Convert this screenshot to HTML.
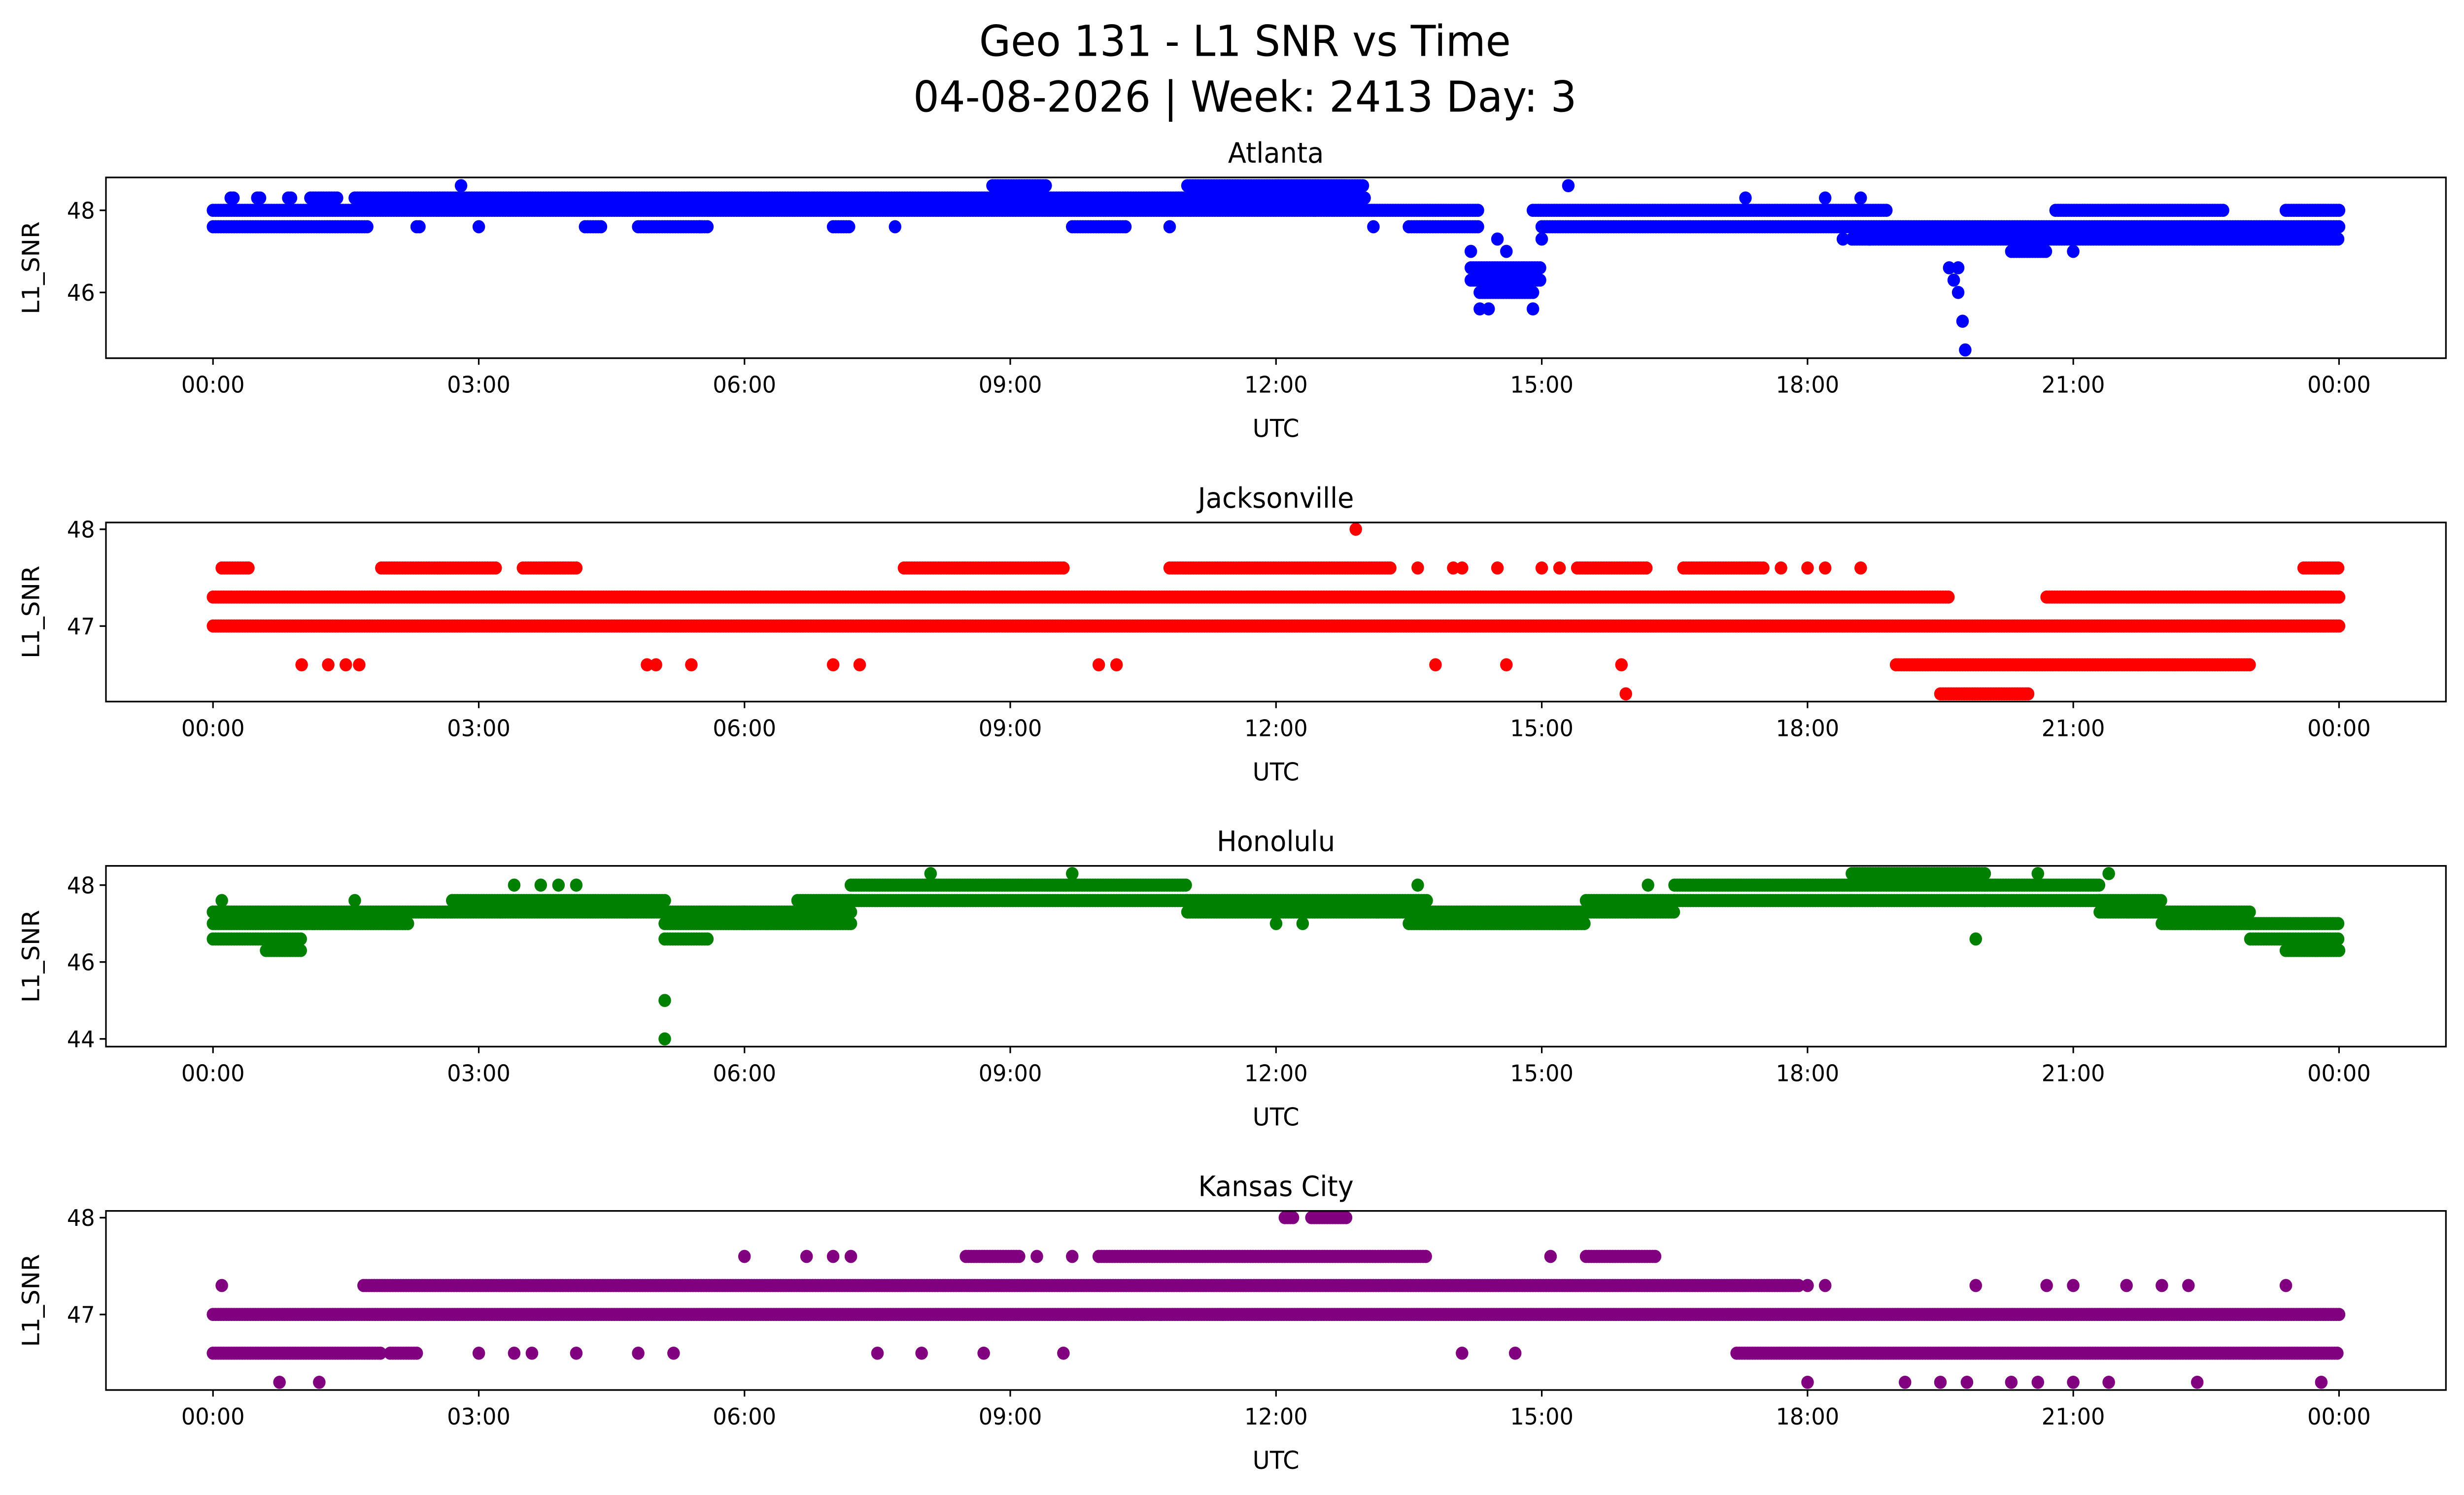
<!DOCTYPE html>
<html><head><meta charset="utf-8"><style>
html,body{margin:0;padding:0;background:#fff;overflow:hidden;width:100%;height:100%;}
svg{display:block;width:100vw;height:100vh;font-family:"DejaVu Sans","Liberation Sans",sans-serif;}
</style></head><body>
<svg id="chart" viewBox="0 0 1567.5 909.9" preserveAspectRatio="none" xmlns="http://www.w3.org/2000/svg">
<rect width="1567.5" height="909.9" fill="#fff"/>
<text x="792" y="34" font-size="26" text-anchor="middle">Geo 131 - L1 SNR vs Time</text>
<text x="792" y="68" font-size="26" text-anchor="middle">04-08-2026 | Week: 2413 Day: 3</text>
<g id="panels"></g>
</svg>
<script>
// x-axis ticks (hours) and labels
const xTicks = [0,3,6,9,12,15,18,21,24];
const xTickLabels = ["00:00","03:00","06:00","09:00","12:00","15:00","18:00","21:00","00:00"];
// Panel names/colors
const stations = ["Atlanta","Jacksonville","Honolulu","Kansas City"];
const colors = ["#0000ff","#ff0000","#008000","#800080"];
// y ticks per panel
const yTicksAtl = [46,48];
const yTicksJax = [47,48];
const yTicksHon = [44,46,48];
const yTicksKc = [47,48];
// runs: [startHour, endHour, snr]
const runsAtl = [[0,1.75,47.6],[0,14.3,48.0],[0.2,0.25,48.3],[0.5,0.55,48.3],[0.85,0.9,48.3],[1.1,1.4,48.3],[1.6,11,48.3],[2.3,2.35,47.6],[4.2,4.4,47.6],[4.8,5.6,47.6],[7,7.2,47.6],[9.7,10.3,47.6],[10.9,13,48.3],[8.8,9.4,48.6],[11,13,48.6],[12,12.8,48.6],[13.5,14.3,47.6],[14.9,18.9,48.0],[15,24,47.6],[18.5,24,47.3],[14.2,15,46.6],[14.2,15,46.3],[14.3,14.9,46.0],[20.8,22.7,48.0],[23.4,24,48.0],[20.3,20.7,47.0]];
const ptsAtl = [[2.8,48.6],[3,47.6],[5.5,47.6],[7.7,47.6],[10.8,47.6],[13.1,47.6],[14.2,47.0],[14.3,45.6],[14.4,45.6],[14.5,47.3],[14.6,47.0],[14.9,45.6],[15,47.3],[15.3,48.6],[18.6,48.3],[18.4,47.3],[18.7,47.3],[19.6,46.6],[19.65,46.3],[19.7,46.0],[19.75,45.3],[19.78,44.6],[19.7,46.6],[21,47.0],[17.3,48.3],[18.2,48.3]];
const runsJax = [[0,19.6,47.3],[20.7,24,47.3],[0,24,47.0],[0.1,0.4,47.6],[1.9,3.2,47.6],[3.5,4.1,47.6],[7.8,9.6,47.6],[10.8,13.3,47.6],[15.4,16.2,47.6],[16.6,17.5,47.6],[19,23,46.6],[19.5,20.5,46.3],[23.6,24,47.6]];
const ptsJax = [[1,46.6],[1.3,46.6],[1.5,46.6],[1.65,46.6],[4.9,46.6],[5,46.6],[5.4,46.6],[7,46.6],[7.3,46.6],[10,46.6],[10.2,46.6],[12.9,48.0],[13.8,46.6],[14.1,47.6],[14.6,46.6],[14.5,47.6],[15,47.6],[15.2,47.6],[15.9,46.6],[15.95,46.3],[17.7,47.6],[18,47.6],[18.2,47.6],[18.6,47.6],[13.6,47.6],[14,47.6]];
const runsHon = [[0,1,47.3],[0,1,47.0],[0,1,46.6],[0.6,1,46.3],[1,2.7,47.3],[1,2.2,47.0],[2.7,5.1,47.6],[2.7,5.1,47.3],[5.1,6,47.3],[5.1,6,47.0],[5.1,5.6,46.6],[6,7.2,47.3],[6,7.2,47.0],[6.6,7.2,47.6],[7.2,11,48.0],[7.2,11,47.6],[11,13.7,47.6],[11,13.7,47.3],[13.5,15.5,47.3],[13.5,15.5,47.0],[15.5,16.5,47.6],[15.5,16.5,47.3],[16.5,18.5,48.0],[16.5,18.5,47.6],[18.5,20,48.3],[18.5,20,48.0],[18.5,20,47.6],[20,21.3,48.0],[20,21.3,47.6],[21.3,22,47.6],[21.3,22,47.3],[22,23,47.3],[22,23,47.0],[23,24,47.0],[23,24,46.6],[23.4,24,46.3]];
const ptsHon = [[3.4,48.0],[3.7,48.0],[3.9,48.0],[4.1,48.0],[5.1,45.0],[5.1,44.0],[8.1,48.3],[9.7,48.3],[13.6,48.0],[16.2,48.0],[19.9,46.6],[21.4,48.3],[20.6,48.3],[12,47.0],[12.3,47.0],[1.6,47.6],[0.1,47.6]];
const runsKc = [[0,24,47.0],[0,1.9,46.6],[17.2,24,46.6],[1.7,17.9,47.3],[8.5,9.1,47.6],[10,13.7,47.6],[15.5,16.3,47.6],[12.1,12.2,48.0],[12.4,12.8,48.0],[2,2.3,46.6]];
const ptsKc = [[0.1,47.3],[0.75,46.3],[1.2,46.3],[3,46.6],[3.4,46.6],[3.6,46.6],[4.1,46.6],[4.8,46.6],[5.2,46.6],[6,47.6],[6.7,47.6],[7,47.6],[7.2,47.6],[7.5,46.6],[8,46.6],[8.7,46.6],[9.3,47.6],[9.6,46.6],[9.7,47.6],[10.5,47.0],[10.7,47.0],[11.4,47.0],[14.1,46.6],[14.7,46.6],[15.1,47.6],[18,47.3],[18.2,47.3],[18,46.3],[19.1,46.3],[19.5,46.3],[19.8,46.3],[20.3,46.3],[20.6,46.3],[21,46.3],[21.4,46.3],[22.4,46.3],[23.8,46.3],[19.9,47.3],[20.7,47.3],[21,47.3],[21.6,47.3],[22,47.3],[22.3,47.3],[23.4,47.3]];

const panels = [
  {runs:runsAtl,pts:ptsAtl,yt:yTicksAtl,top:108,bot:218,ymin:44.4,ymax:48.8},
  {runs:runsJax,pts:ptsJax,yt:yTicksJax,top:318,bot:427,ymin:46.22,ymax:48.07},
  {runs:runsHon,pts:ptsHon,yt:yTicksHon,top:527,bot:637,ymin:43.8,ymax:48.5},
  {runs:runsKc,pts:ptsKc,yt:yTicksKc,top:737,bot:846,ymin:46.22,ymax:48.07}
];
const NS="http://www.w3.org/2000/svg";
const L=67.4,R=1556;
const xs=h=>135.5+h*(1488-135.5)/24;
const g=document.getElementById('panels');
function mk(tag,attrs,parent){const e=document.createElementNS(NS,tag);for(const k in attrs)e.setAttribute(k,attrs[k]);parent.appendChild(e);return e;}
panels.forEach((p,i)=>{
  const ys=v=>p.bot-(v-p.ymin)/(p.ymax-p.ymin)*(p.bot-p.top);
  const pg=mk('g',{},g);
  
  
  const pts=mk('g',{fill:colors[i]},pg);
  
  
  p.runs.forEach(r=>{for(let h=r[0];h<=r[1]+1e-9;h+=0.03){mk('circle',{cx:xs(h).toFixed(1),cy:ys(r[2]).toFixed(1),r:4},pts);}});
  p.pts.forEach(q=>{const c=mk('circle',{cx:xs(q[0]).toFixed(1),cy:ys(q[1]).toFixed(1),r:4},pts);
    
    });
  const fr=mk('rect',{x:L,y:p.top,width:R-L,height:p.bot-p.top,fill:'none',stroke:'#000','stroke-width':1},pg);
  
  
  const t=mk('text',{x:(L+R)/2,y:p.top-9,'font-size':17,'text-anchor':'middle'},pg);t.textContent=stations[i];
  
  
  xTicks.forEach((h,k)=>{mk('line',{x1:xs(h),x2:xs(h),y1:p.bot,y2:p.bot+4,stroke:'#000'},pg);
    const tl=mk('text',{x:xs(h),y:p.bot+21,'font-size':14,'text-anchor':'middle'},pg);tl.textContent=xTickLabels[k];
    
    });
  p.yt.forEach(v=>{mk('line',{x1:L-4,x2:L,y1:ys(v),y2:ys(v),stroke:'#000'},pg);
    const tl=mk('text',{x:L-7,y:ys(v)+5,'font-size':14,'text-anchor':'end'},pg);tl.textContent=v;
    
    });
  const xt=mk('text',{x:(L+R)/2,y:p.bot+48,'font-size':15,'text-anchor':'middle'},pg);xt.textContent='UTC';
  
  
  const cy=(p.top+p.bot)/2;
  const yt=mk('text',{x:25,y:cy,'font-size':15,'text-anchor':'middle',transform:`rotate(-90 25 ${cy})`},pg);yt.textContent='L1_SNR';
  
  
});
</script>
</body></html>
